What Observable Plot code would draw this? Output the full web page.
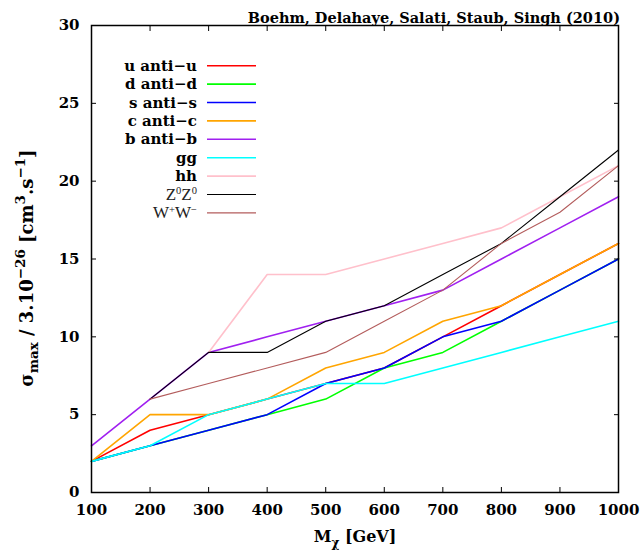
<!DOCTYPE html>
<html><head><meta charset="utf-8">
<script src="https://cdn.jsdelivr.net/npm/d3@7"></script>
<script src="https://cdn.jsdelivr.net/npm/@observablehq/plot@0.6"></script>
<style>body{margin:0;background:#fff} svg text{font-weight:bold}</style>
</head><body><div id="chart"></div>
<script>
const masses = [100,200,300,400,500,600,700,800,900,1000];
const seriesNames = ["u anti−u","d anti−d","s anti−s","c anti−c","b anti−b","gg","hh","Z^0Z^0","W^+W^−"];
const seriesColors = ["#ff0000","#00ff00","#0000ff","#ffa500","#a020f0","#00ffff","#ffc0cb","#000000","#b35c5c"];
const seriesWidths = [1.6,1.6,1.6,1.6,1.6,1.6,1.6,1.1,1.1];
const uu = [2,4,5,6,7,8,10,12,14,16];
const dd = [2,3,4,5,6,8,9,11,13,15];
const ss = [2,3,4,5,7,8,10,11,13,15];
const cc = [2,5,5,6,8,9,11,12,14,16];
const bb = [3,6,9,10,11,12,13,15,17,19];
const gg = [2,3,5,6,7,7,8,9,10,11];
const hh = [null,null,9,14,14,15,16,17,19,21];
const zz = [null,6,9,9,11,12,14,16,19,22];
const ww = [null,6,7,8,9,11,13,16,18,21];
const xTicks = [100,200,300,400,500,600,700,800,900,1000];
const yTicks = [0,5,10,15,20,25,30];
const titleText = "Boehm, Delahaye, Salati, Staub, Singh (2010)";

const values = [uu,dd,ss,cc,bb,gg,hh,zz,ww];
const rows = [];
seriesNames.forEach((name,i)=>values[i].forEach((v,j)=>{ if(v!=null) rows.push({series:name, mass:masses[j], sigma:v}); }));

const font = "'DejaVu Serif', serif";
const lines = seriesNames.map((name,i)=>Plot.line(rows.filter(r=>r.series===name),{x:"mass",y:"sigma",stroke:seriesColors[i],strokeWidth:seriesWidths[i]}));

const chart = Plot.plot({
  width:643, height:552, marginLeft:91, marginRight:25, marginTop:25, marginBottom:60,
  x:{domain:[100,1000]}, y:{domain:[0,30]},
  style:{fontFamily:font, background:"white", color:"black"},
  marks:[
    ...lines,
    Plot.axisX(xTicks,{anchor:"bottom",tickSize:0,tickPadding:12,label:null,fontSize:15,tickFormat:d=>String(d)}),
    Plot.axisX(xTicks,{anchor:"bottom",tickSize:5,dy:-5,tickFormat:()=>"",label:null}),
    Plot.axisX(xTicks,{anchor:"top",tickSize:5,dy:5,tickFormat:()=>"",label:null}),
    Plot.axisY(yTicks,{anchor:"left",tickSize:0,tickPadding:12,label:null,fontSize:15,tickFormat:d=>String(d)}),
    Plot.axisY(yTicks,{anchor:"left",tickSize:5,dx:5,tickFormat:()=>"",label:null}),
    Plot.axisY(yTicks,{anchor:"right",tickSize:5,dx:-5,tickFormat:()=>"",label:null}),
    Plot.frame({strokeWidth:1.5})
  ]
});
document.getElementById("chart").append(chart);

const svg = d3.select(chart);
function rich(textSel, str, size, up=0.45, down=0.3, scale=0.75){
  const re = /([\^_])\{([^}]*)\}|([\^_])(.)|([^\^_]+)/g;
  let m, shift = 0;
  while((m = re.exec(str))){
    const mark = m[1]||m[3];
    const body = m[2]!==undefined ? m[2] : m[4];
    if(mark){
      const target = mark==="^" ? -up*size : down*size;
      textSel.append("tspan").attr("dy", target-shift).attr("font-size", size*scale).text(body);
      shift = target;
    } else {
      textSel.append("tspan").attr("dy", -shift).attr("font-size", size).text(m[5]);
      shift = 0;
    }
  }
}
// title
svg.append("text").attr("x",620).attr("y",23).attr("text-anchor","end")
  .attr("font-family",font).attr("font-size",14.5).text(titleText);
// y label
const yl = svg.append("text").attr("transform","translate(33,268) rotate(-90)").attr("text-anchor","middle")
  .attr("font-family",font);
rich(yl,"σ_{max} / 3.10^{−26} [cm^3.s^{−1}]",18);
// x label
const xl = svg.append("text").attr("x",355).attr("y",542).attr("text-anchor","middle").attr("font-family",font);
rich(xl,"M_χ [GeV]",16);
// legend
seriesNames.forEach((name,i)=>{
  const y = 65.7 + i*18.4;
  const t = svg.append("text").attr("x",197).attr("y",y+5).attr("text-anchor","end").attr("font-family",font);
  if(name.includes("^")){ t.attr("font-family","'Liberation Serif', serif").attr("fill","#222").style("font-weight","normal"); rich(t,name,17,0.3,0.3,0.62); }
  else { rich(t,name,15); }
  svg.append("line").attr("x1",207).attr("x2",256).attr("y1",y).attr("y2",y)
    .attr("stroke",seriesColors[i]).attr("stroke-width",seriesWidths[i]);
});
</script>
</body></html>
